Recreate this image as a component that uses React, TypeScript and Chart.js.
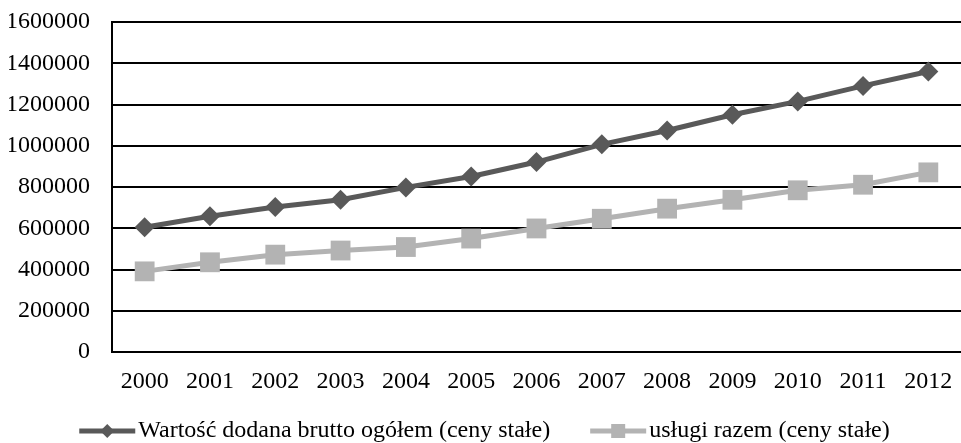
import React, { useEffect, useRef } from "react";
import { Chart, registerables } from "chart.js";

Chart.register(...registerables);

const years = ["2000", "2001", "2002", "2003", "2004", "2005", "2006", "2007", "2008", "2009", "2010", "2011", "2012"];
const wartoscDodana = [605000, 658000, 703000, 738000, 798000, 851000, 921000, 1007000, 1074000, 1150000, 1215000, 1290000, 1360000];
const uslugiRazem = [391000, 435000, 472000, 492000, 509000, 550000, 599000, 646000, 695000, 738000, 784000, 811000, 871000];
const seriesNames = ["Wartość dodana brutto ogółem (ceny stałe)", "usługi razem (ceny stałe)"];

const DARK = "#595959";
const LIGHT = "#b3b3b3";
const FONT = '"Liberation Serif", "Times New Roman", serif';
const FONT_SIZE = 24;

const legendPlugin = {
  id: "customLegend",
  afterDraw(chart: any) {
    const ctx = chart.ctx as CanvasRenderingContext2D;
    ctx.save();
    ctx.font = `${FONT_SIZE}px ${FONT}`;
    ctx.textBaseline = "middle";
    ctx.textAlign = "left";
    const lineLen = 56;
    const gapText = 3;
    const gapItems = 40;
    const items = chart.data.datasets.map((ds: any) => ({
      text: ds.label as string,
      color: ds.borderColor as string,
      style: ds.pointStyle as string,
    }));
    const widths = items.map((it: any) => lineLen + gapText + ctx.measureText(it.text).width);
    const total = widths.reduce((a: number, b: number) => a + b, 0) + gapItems * (items.length - 1);
    let x = (chart.width - total) / 2 + 4;
    const y = chart.height - 12;
    items.forEach((it: any, i: number) => {
      ctx.strokeStyle = it.color;
      ctx.lineWidth = 5;
      ctx.beginPath();
      ctx.moveTo(x, y);
      ctx.lineTo(x + lineLen, y);
      ctx.stroke();
      ctx.fillStyle = it.color;
      const cx = x + lineLen / 2;
      ctx.beginPath();
      if (it.style === "rectRot") {
        const r = 7;
        ctx.moveTo(cx, y - r);
        ctx.lineTo(cx + r, y);
        ctx.lineTo(cx, y + r);
        ctx.lineTo(cx - r, y);
        ctx.closePath();
      } else {
        const h = 7;
        ctx.rect(cx - h, y - h, 2 * h, 2 * h);
      }
      ctx.fill();
      ctx.fillStyle = "#000000";
      ctx.fillText(it.text, x + lineLen + gapText, y);
      x += widths[i] + gapItems;
    });
    ctx.restore();
  },
};

export default function App() {
  const ref = useRef<HTMLCanvasElement | null>(null);

  useEffect(() => {
    document.body.style.margin = "0";
    if (!ref.current) return;
    const chart = new Chart(ref.current, {
      type: "line",
      data: {
        labels: years,
        datasets: [
          {
            label: seriesNames[0],
            data: wartoscDodana,
            borderColor: DARK,
            backgroundColor: DARK,
            borderWidth: 5,
            pointStyle: "rectRot",
            pointRadius: 10,
            pointBorderWidth: 0,
            pointBackgroundColor: DARK,
            tension: 0,
          },
          {
            label: seriesNames[1],
            data: uslugiRazem,
            borderColor: LIGHT,
            backgroundColor: LIGHT,
            borderWidth: 5,
            pointStyle: "rect",
            pointRadius: 14,
            pointBorderWidth: 0,
            pointBackgroundColor: LIGHT,
            tension: 0,
          },
        ],
      },
      options: {
        responsive: false,
        animation: false,
        layout: { autoPadding: false, padding: { top: 22, left: 9, right: 0, bottom: 43 } },
        plugins: {
          legend: { display: false },
          tooltip: { enabled: false },
        },
        scales: {
          x: {
            offset: true,
            grid: { display: false, drawTicks: false },
            border: { display: false },
            ticks: {
              color: "#000000",
              padding: 15,
              maxRotation: 0,
              autoSkip: false,
              font: { family: FONT, size: FONT_SIZE },
            },
            afterFit: (s: any) => {
              s.height = 48;
              s.paddingLeft = 0;
              s.paddingRight = 0;
            },
          },
          y: {
            min: 0,
            max: 1600000,
            grid: { color: "#000000", lineWidth: 2, drawTicks: false },
            border: { display: true, color: "#000000", width: 2 },
            ticks: {
              stepSize: 200000,
              color: "#000000",
              padding: 22,
              font: { family: FONT, size: FONT_SIZE },
              callback: (v: any) => String(v),
            },
            afterFit: (s: any) => {
              s.width = 103;
              s.paddingTop = 0;
              s.paddingBottom = 0;
            },
          },
        },
      },
      plugins: [legendPlugin],
    });
    return () => chart.destroy();
  }, []);

  return (
    <div style={{ position: "absolute", left: 0, top: 0, width: 961, height: 443 }}>
      <canvas ref={ref} width={961} height={443} style={{ display: "block" }} />
    </div>
  );
}
